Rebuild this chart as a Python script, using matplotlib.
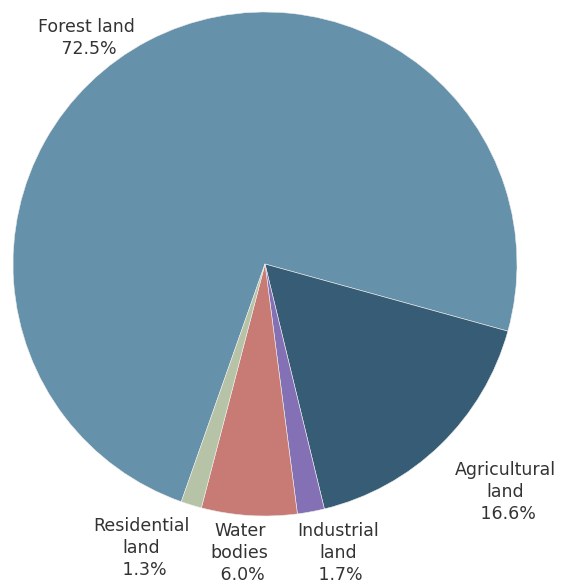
import matplotlib.pyplot as plt

categories = ["Forest land", "Agricultural land", "Industrial land", "Water bodies", "Residential land"]
shares = [72.5, 16.6, 1.7, 6.0, 1.3]
label_texts = ["Forest land\n 72.5%", "Agricultural\nland\n 16.6%", "Industrial\nland\n 1.7%",
               "Water\nbodies\n 6.0%", "Residential\nland\n 1.3%"]
colors = ["#6591aa", "#375c75", "#8470b5", "#c77b74", "#b6c3a6"]

# label anchor points, in units of the pie radius
label_pos = [(-0.71, 0.897), (0.955, -0.905), (0.29, -1.148), (-0.1, -1.148), (-0.49, -1.128)]

fig = plt.figure(figsize=(5.64, 5.81), dpi=100)
ax = fig.add_axes([0, 0, 1, 1])

ax.pie(shares, colors=colors, startangle=250.6, counterclock=False, radius=1.0,
       wedgeprops=dict(edgecolor="#eeeeee", linewidth=0.4))

for text, (x, y) in zip(label_texts, label_pos):
    ax.text(x, y, text, ha="center", va="center", fontsize=12.5, color="#333333",
            linespacing=1.3, family="DejaVu Sans")

ax.set_xlim(-265 / 252, (564 - 265) / 252)
ax.set_ylim(-(581 - 264) / 252, 264 / 252)
ax.set_aspect("equal")
ax.axis("off")

fig.savefig("out.png", dpi=100)
